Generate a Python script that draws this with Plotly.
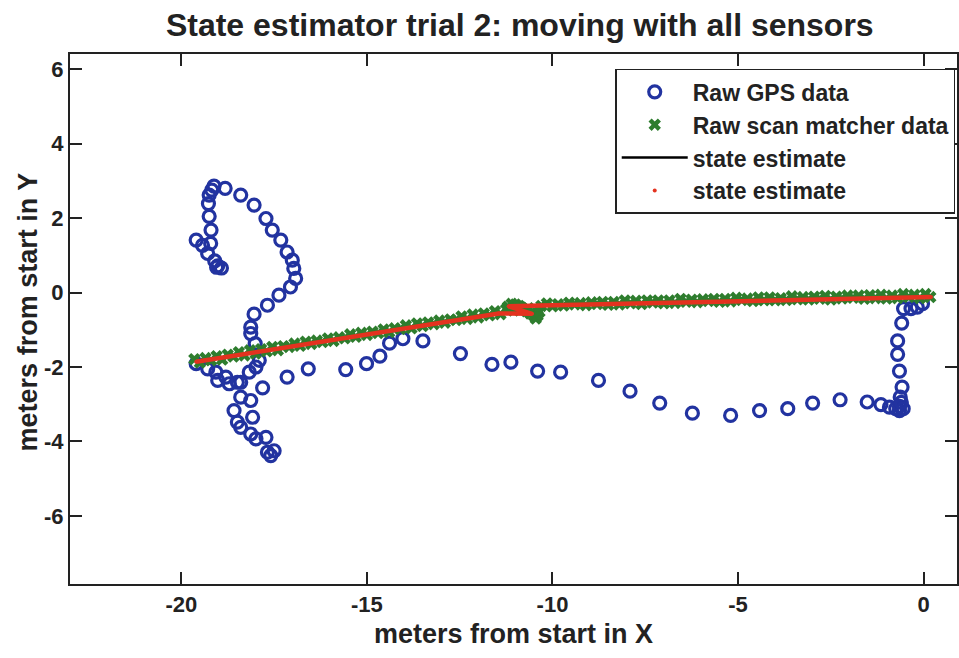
import plotly.graph_objects as go

# ---- Raw GPS data (meters) ----
gps_x = [-19.60, -19.43, -19.29, -19.10, -19.02, -18.92, -19.05, -19.21, -19.20, -19.25,
         -19.27, -19.25, -19.18, -19.12, -18.82, -18.40, -18.04, -17.72, -17.55, -17.32,
         -17.15, -17.01, -16.97, -16.92, -17.06, -17.37, -17.68, -18.04, -18.13, -18.13,
         -18.01, -17.90, -17.99, -18.17, -18.40, -19.60, -19.29, -19.07, -19.02, -18.80,
         -18.71, -18.49, -18.40, -18.13, -18.58, -18.08, -18.49, -18.40, -18.13, -17.99,
         -17.72, -17.68, -17.50, -17.59, -17.81, -17.15, -16.58, -15.57, -15.01, -14.65,
         -14.39, -14.03, -13.49, -12.48, -11.63, -11.12, -10.40, -9.78, -8.76, -7.91,
         -7.11, -6.23, -5.20, -4.42, -3.66, -2.99, -2.25, -1.52, -1.15, -0.92,
         -0.65, -0.65, -0.63, -0.58, -0.65, -0.70, -0.70, -0.59, -0.54, -0.34,
         -0.17, -0.03, -0.75, -0.55, -0.60]
gps_y = [1.41, 1.27, 1.05, 0.85, 0.72, 0.66, 0.68, 1.32, 1.68, 2.05,
         2.39, 2.62, 2.75, 2.86, 2.80, 2.62, 2.35, 1.99, 1.68, 1.41,
         1.09, 0.87, 0.65, 0.38, 0.15, -0.07, -0.34, -0.58, -0.93, -1.10,
         -1.37, -1.82, -2.00, -2.14, -2.41, -1.91, -2.05, -2.14, -2.36, -2.27,
         -2.45, -2.41, -2.81, -2.90, -3.17, -3.35, -3.48, -3.62, -3.80, -3.93,
         -3.89, -4.29, -4.25, -4.38, -2.56, -2.27, -2.05, -2.07, -1.91, -1.71,
         -1.36, -1.24, -1.30, -1.64, -1.93, -1.87, -2.11, -2.14, -2.36, -2.65,
         -2.97, -3.24, -3.30, -3.17, -3.12, -2.97, -2.88, -2.94, -3.01, -3.08,
         -3.17, -3.06, -2.81, -2.54, -2.11, -1.66, -1.30, -0.82, -0.43, -0.43,
         -0.39, -0.30, -3.12, -3.12, -2.95]

# ---- Raw scan matcher data (meters) ----
scan_x = [-19.65, -19.50, -19.35, -19.20, -19.05, -18.90, -18.75, -18.60, -18.45, -18.30,
          -18.15, -18.00, -17.85, -17.70, -17.55, -17.40, -17.25, -17.10, -16.95, -16.80,
          -16.65, -16.50, -16.35, -16.20, -16.05, -15.90, -15.75, -15.60, -15.45, -15.30,
          -15.15, -15.00, -14.85, -14.70, -14.55, -14.40, -14.25, -14.10, -13.95, -13.80,
          -13.65, -13.50, -13.35, -13.20, -13.05, -12.90, -12.75, -12.60, -12.45, -12.30,
          -12.15, -12.00, -11.85, -11.70, -11.55, -11.40, -11.25, -11.20, -11.10, -11.00,
          -10.90, -10.80, -10.70, -10.60, -10.50, -10.45, -10.40, -10.35, -11.05, -10.85,
          -10.65, -10.30, -10.15, -10.00, -9.85, -9.70, -9.55, -9.40, -9.25, -9.10,
          -8.95, -8.80, -8.65, -8.50, -8.35, -8.20, -8.05, -7.90, -7.75, -7.60,
          -7.45, -7.30, -7.15, -7.00, -6.85, -6.70, -6.55, -6.40, -6.25, -6.10,
          -5.95, -5.80, -5.65, -5.50, -5.35, -5.20, -5.05, -4.90, -4.75, -4.60,
          -4.45, -4.30, -4.15, -4.00, -3.85, -3.70, -3.55, -3.40, -3.25, -3.10,
          -2.95, -2.80, -2.65, -2.50, -2.35, -2.20, -2.05, -1.90, -1.75, -1.60,
          -1.45, -1.30, -1.15, -1.00, -0.85, -0.70, -0.55, -0.40, -0.25, -0.10,
          0.05, 0.18]
scan_y = [-1.79, -1.88, -1.76, -1.82, -1.71, -1.80, -1.67, -1.72, -1.60, -1.69,
          -1.55, -1.64, -1.52, -1.58, -1.46, -1.55, -1.44, -1.46, -1.37, -1.43,
          -1.32, -1.38, -1.29, -1.33, -1.23, -1.30, -1.20, -1.23, -1.12, -1.19,
          -1.08, -1.14, -1.05, -1.09, -0.99, -1.06, -0.96, -0.98, -0.88, -0.96,
          -0.83, -0.90, -0.80, -0.85, -0.75, -0.81, -0.72, -0.74, -0.64, -0.71,
          -0.59, -0.67, -0.56, -0.61, -0.50, -0.58, -0.45, -0.38, -0.30, -0.32,
          -0.36, -0.44, -0.50, -0.56, -0.62, -0.70, -0.62, -0.52, -0.48, -0.40,
          -0.42, -0.36, -0.29, -0.37, -0.31, -0.35, -0.27, -0.32, -0.28, -0.34,
          -0.26, -0.31, -0.25, -0.33, -0.25, -0.32, -0.21, -0.29, -0.22, -0.31,
          -0.21, -0.27, -0.21, -0.29, -0.21, -0.28, -0.17, -0.25, -0.19, -0.26,
          -0.18, -0.23, -0.17, -0.25, -0.17, -0.24, -0.14, -0.20, -0.16, -0.23,
          -0.13, -0.21, -0.13, -0.21, -0.15, -0.20, -0.10, -0.18, -0.12, -0.19,
          -0.11, -0.17, -0.09, -0.19, -0.11, -0.16, -0.08, -0.14, -0.08, -0.17,
          -0.07, -0.15, -0.06, -0.16, -0.08, -0.15, -0.04, -0.12, -0.06, -0.15,
          -0.04, -0.12]

# ---- State estimate (meters) ----
est_x = [-19.60, -17.50, -15.50, -13.50, -11.45, -10.55, -11.18, -10.30, -7.50, -5.00, -2.50, 0.20]
est_y = [-1.86, -1.52, -1.21, -0.89, -0.56, -0.57, -0.37, -0.35, -0.29, -0.23, -0.18, -0.12]

# ---- Axis ticks ----
x_ticks = [-20, -15, -10, -5, 0]
x_tick_labels = ["-20", "-15", "-10", "-5", "0"]
y_ticks = [-6, -4, -2, 0, 2, 4, 6]
y_tick_labels = ["-6", "-4", "-2", "0", "2", "4", "6"]

FONT = "Liberation Sans, Arial, Helvetica, sans-serif"
TXT = "#222222"
BLUE = "#2233a0"
GREEN = "#2e7d2e"
RED = "#e4321f"

fig = go.Figure()
fig.add_trace(go.Scatter(
    x=gps_x, y=gps_y, mode="markers", name="Raw GPS data",
    marker=dict(symbol="circle-open", size=12, color=BLUE, line=dict(width=3.2, color=BLUE)),
))
fig.add_trace(go.Scatter(
    x=scan_x, y=scan_y, mode="markers", name="Raw scan matcher data",
    marker=dict(symbol="x", size=11, color=GREEN, line=dict(width=0)),
))
fig.add_trace(go.Scatter(
    x=est_x, y=est_y, mode="lines", name="state estimate",
    line=dict(color="black", width=2.5),
))
fig.add_trace(go.Scatter(
    x=est_x, y=est_y, mode="lines", showlegend=False, hoverinfo="skip",
    line=dict(color=RED, width=4.5),
))
fig.add_trace(go.Scatter(
    x=est_x, y=est_y, mode="markers", name="state estimate",
    marker=dict(symbol="circle", size=4, color=RED),
))

axis_common = dict(
    showgrid=False, zeroline=False, showline=True, linecolor=TXT, linewidth=2,
    mirror="ticks", ticks="inside", ticklen=12, tickwidth=1.5, tickcolor=TXT,
    tickfont=dict(family=FONT, size=22, color=TXT, weight="bold"),
)

fig.update_layout(
    width=959, height=658,
    margin=dict(l=70, r=0, t=54, b=74),
    paper_bgcolor="white", plot_bgcolor="white",
    font=dict(family=FONT, color=TXT),
    title=dict(text="<b>State estimator trial 2: moving with all sensors</b>",
               x=0.542, xanchor="center", y=0.962, yanchor="middle",
               font=dict(family=FONT, size=32, color=TXT)),
    xaxis=dict(range=[-23.0, 0.9], tickvals=x_ticks, ticktext=x_tick_labels, **axis_common),
    yaxis=dict(range=[-7.83, 6.41], tickvals=y_ticks, ticktext=y_tick_labels, **axis_common),
    legend=dict(x=0.998, xanchor="right", y=0.972, yanchor="top",
                bgcolor="white", bordercolor=TXT, borderwidth=1.5,
                font=dict(family=FONT, size=23, color=TXT, weight="bold"),
                tracegroupgap=0, itemwidth=66),
    showlegend=True,
    annotations=[
        dict(text="<b>meters from start in X</b>", xref="paper", yref="paper",
             x=0.5, y=-0.095, xanchor="center", yanchor="middle", showarrow=False,
             font=dict(family=FONT, size=27, color=TXT)),
        dict(text="<b>meters from start in Y</b>", xref="paper", yref="paper",
             x=-0.047, y=0.513, xanchor="center", yanchor="middle", textangle=-90,
             showarrow=False, font=dict(family=FONT, size=27, color=TXT)),
    ],
)

fig.write_html("out.html",
               config={"displayModeBar": False},
               post_script="document.body.style.margin='0';document.body.style.overflow='hidden';")
